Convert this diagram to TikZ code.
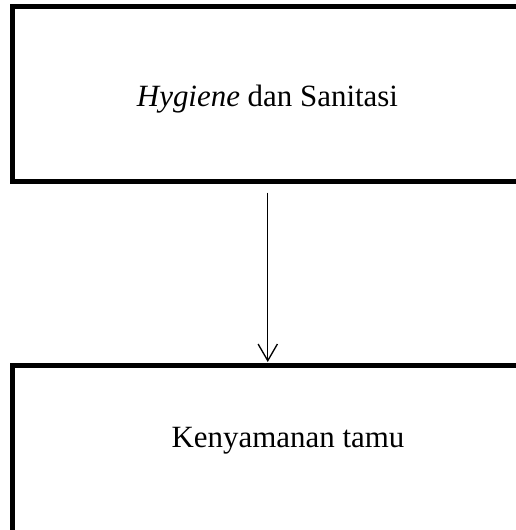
\documentclass[tikz,border=0pt]{standalone}
\usepackage{fontspec}
\setmainfont{Liberation Serif}
\usetikzlibrary{arrows.meta,calc}
\begin{document}
\begin{tikzpicture}[x=0.75pt,y=-0.75pt,
  boxstyle/.style={draw=black,line width=3.75pt,rectangle,inner sep=0pt,outer sep=0pt},
  labelstyle/.style={font=\fontsize{23.2}{27}\selectfont,anchor=base,inner sep=0pt},
  connector/.style={line width=1pt,-{Straight Barb[length=12.5pt,width=14.5pt,line width=1pt]}}]
\useasboundingbox (0,0) rectangle (515,530);
\node[boxstyle,minimum width=517.5*0.75pt,minimum height=175*0.75pt] (top) at (271.25,94) {};
\node[boxstyle,minimum width=517.5*0.75pt,minimum height=166.5*0.75pt] (bottom) at (271.25,448.75) {};
\node[labelstyle] (toptext) at (267.5,107) {\textit{Hygiene} dan Sanitasi};
\node[labelstyle] (bottomtext) at (288,447) {Kenyamanan tamu};
\coordinate (a1) at ($(top.south)+(-3.5,11.2)$);
\coordinate (a2) at ($(bottom.north)+(-3.5,-3.5)$);
\draw[connector] (a1) -- (a2);
\end{tikzpicture}
\end{document}
